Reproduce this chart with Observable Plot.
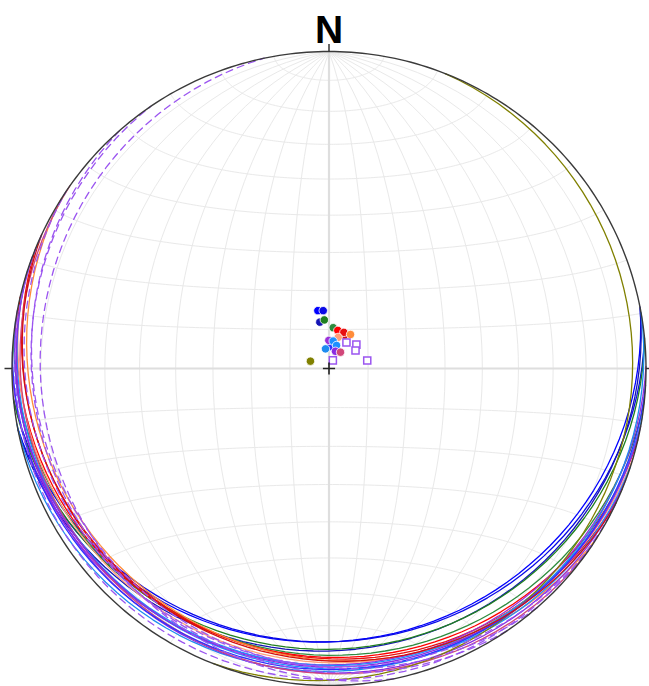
<!DOCTYPE html>
<html><head><meta charset="utf-8">
<script src="https://cdn.jsdelivr.net/npm/d3@7"></script>
<script src="https://cdn.jsdelivr.net/npm/@observablehq/plot@0.6"></script>
<style>body{margin:0;background:#fff}#chart svg{display:block}</style>
</head><body><div id="chart"></div>
<script>
// Planes (dip direction / dip, degrees)
const dipDirection = [169.1, 174.3, 168.8, 174.5, 185.9, 193.0, 202.3, 212.3, 196.4, 179.6, 188.7, 198.1, 169.9, 200.6, 215.2, 111.5, 190.5, 183.0, 205.0, 213.9, 228.9, 235.8, 205.4, 258.2];
const dip          = [15.1, 14.9, 12.1, 12.5, 10.5, 10.0, 10.0, 10.3, 8.3, 7.2, 7.1, 6.2, 5.1, 4.7, 5.1, 5.1, 6.6, 5.6, 9.4, 8.0, 9.3, 8.2, 2.3, 10.0];
const planeColor   = ["#0000ff", "#0a0ae6", "#1414b4", "#1f7f1f", "#2e8b3e", "#ff0000", "#e81010", "#ff8c3a", "#ffa07a", "#9b30d8", "#1e90ff", "#1e90ff", "#1e8cf0", "#8a2be2", "#d1477a", "#808000", "#8a2be2", "#3030ff", "#d01010", "#9b55f0", "#9b55f0", "#9b55f0", "#9b55f0", "#9b55f0"];
const planeKind    = ["pole", "pole", "pole", "pole", "pole", "pole", "pole", "pole", "pole", "pole", "pole", "pole", "pole", "pole", "pole", "pole", "pole", "pole", "pole", "square", "square", "square", "square", "square"];
// Net
const netAngles = [10, 20, 30, 40, 50, 60, 70, 80];
const cardinalTrends = [0, 90, 180, 270];
const northLabel = "N";

const W = 649, H = 686, cx = 328.5, cy = 368, R = 317;
const lon = t => 180 - t; // trend -> longitude for north-up polar aspect

const projection = d3.geoAzimuthalEqualArea()
  .rotate([0, -90])
  .clipAngle(90.0001)
  .scale(R / Math.SQRT2)
  .translate([cx, cy])
  .precision(0.1);

function planeGeometry(dd, d) {
  const strike = dd - 90;
  return {type: "LineString", coordinates: [[lon(strike), 0], [lon(dd), d], [lon(strike + 180), 0]]};
}

const planes = dipDirection.map((dd, i) => ({
  dd, dip: dip[i], color: planeColor[i], kind: planeKind[i],
  geometry: planeGeometry(dd, dip[i]),
  poleLon: lon(dd + 180), poleLat: 90 - dip[i]
}));
// draw order of poles: hidden ones first
const poleOrder = [16, 17, 18, 0, 1, 2, 3, 4, 5, 6, 7, 8, 9, 10, 11, 12, 13, 14, 15];

const meridians = netAngles.flatMap(a => [planeGeometry(90, a), planeGeometry(270, a)]);
const smallCircles = netAngles.flatMap(a => [0, 180].map(t => ({
  type: "LineString",
  coordinates: d3.geoCircle().center([lon(t), 0]).radius(a).precision(1)().coordinates[0]
})));
const axes = [planeGeometry(90, 90), planeGeometry(0, 90)];
const primitive = [{type: "LineString", coordinates: d3.geoCircle().center([0, 90]).radius(90).precision(1)().coordinates[0]}];
const cardinals = cardinalTrends.map(t => ({lon: lon(t), lat: 0, angle: t}));

const tickSymbol = {draw(context) { context.moveTo(0, 0); context.lineTo(0, -7.5); }};

const plot = Plot.plot({
  width: W, height: H,
  projection,
  color: {type: "identity"},
  marks: [
    Plot.geo(meridians, {stroke: "#e9e9e9", strokeWidth: 1}),
    Plot.geo(smallCircles, {stroke: "#e9e9e9", strokeWidth: 1}),
    Plot.geo(axes, {stroke: "#dedede", strokeWidth: 2.2}),
    Plot.geo(planes.filter(p => p.kind === "pole"), {geometry: "geometry", stroke: "color", strokeWidth: 1.3}),
    Plot.geo(planes.filter(p => p.kind === "square"), {geometry: "geometry", stroke: "color", strokeWidth: 1.3, strokeDasharray: "7,5"}),
    Plot.geo(primitive, {stroke: "#3a3a3a", strokeWidth: 1.4}),
    Plot.dot(cardinals, {x: "lon", y: "lat", symbol: tickSymbol, rotate: "angle", stroke: "#333", strokeWidth: 1.5, fill: "none"}),
    Plot.dot(poleOrder.map(i => planes[i]), {x: "poleLon", y: "poleLat", r: 4.2, fill: "color", stroke: "white", strokeWidth: 0.8}),
    Plot.dot(planes.filter(p => p.kind === "square"), {x: "poleLon", y: "poleLat", symbol: "square", r: 4, fill: "white", stroke: "color", strokeWidth: 1.5}),
    Plot.dot([{lon: 0, lat: 90}], {x: "lon", y: "lat", symbol: "plus", r: 4, stroke: "#222", strokeWidth: 1.6}),
    Plot.text([{lon: lon(0), lat: 0, label: northLabel}], {x: "lon", y: "lat", text: "label", dy: -9, lineAnchor: "bottom", fontSize: 39, fontWeight: "bold", fontFamily: "Liberation Sans, Arial, sans-serif", fill: "#000"})
  ]
});
document.getElementById("chart").appendChild(plot);
</script>
</body></html>
